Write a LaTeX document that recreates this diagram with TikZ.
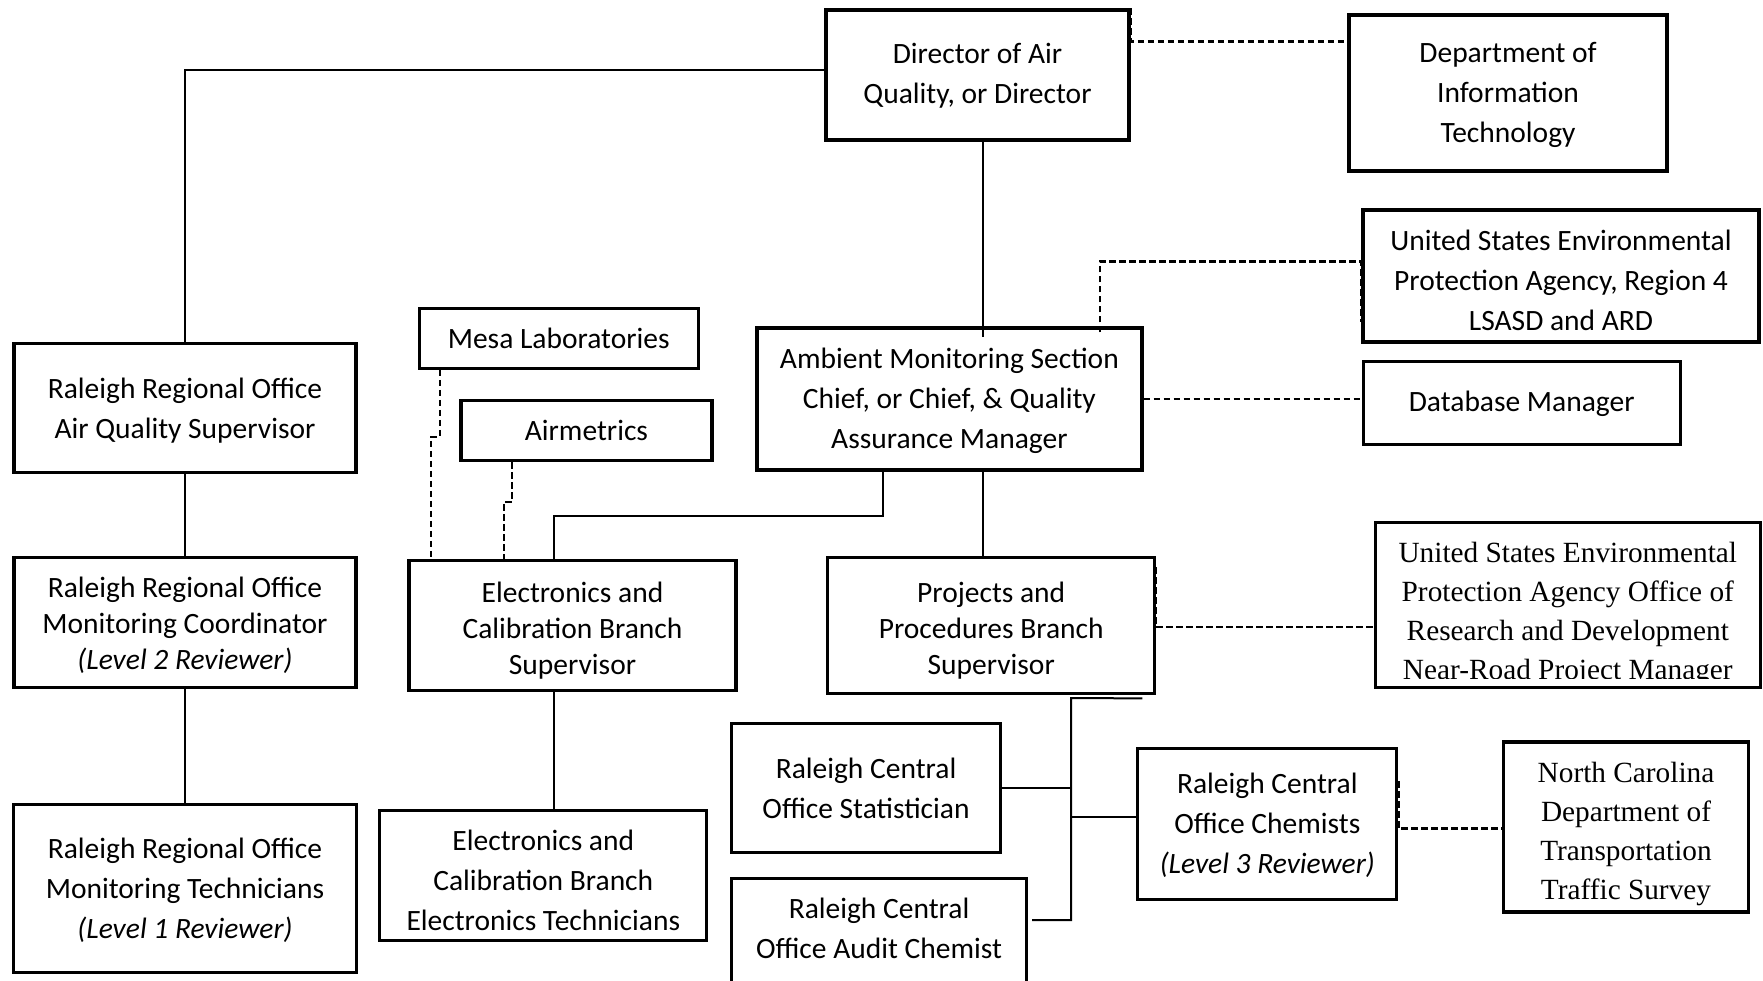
\documentclass[tikz,border=0pt]{standalone}
\usepackage{fontspec}
\setmainfont{Carlito}
\newfontfamily\timesfont{Liberation Serif}
\usetikzlibrary{calc}
\begin{document}
\begin{tikzpicture}[x=1pt,y=-1pt,
  box/.style={draw, line width=3.2pt, inner sep=0pt},
  lab/.style={align=center, inner sep=0pt, font=\fontsize{29.5}{40}\selectfont},
  tight/.style={font=\fontsize{29.5}{36}\selectfont},
  serif/.style={font=\timesfont\fontsize{29.3}{39}\selectfont},
  conn/.style={line width=2pt},
  thin/.style={line width=1.3pt},
  dconn/.style={line width=2.2pt, dash pattern=on 6.5pt off 3.5pt},
]
\clip (0,0) rectangle (1763,980);
\fill[white] (0,0) rectangle (1763,980);

% boxes
\node[box, minimum width=303, minimum height=130, label={[lab, yshift=-1pt]center:{Director of Air\\Quality, or Director}}] (dir) at (977.5,75) {};
\node[box, minimum width=318, minimum height=156, label={[lab, yshift=-2pt]center:{Department of\\Information\\Technology}}] (dit) at (1508,93) {};
\node[box, minimum width=396, minimum height=132, label={[lab, yshift=-4pt]center:{United States Environmental\\Protection Agency, Region 4\\LSASD and ARD}}] (r4) at (1561,276) {};
\node[box, minimum width=317, minimum height=83, label={[lab, yshift=-1pt]center:{Database Manager}}] (db) at (1521.7,403.2) {};
\node[box, minimum width=385, minimum height=142, label={[lab, yshift=-2pt]center:{Ambient Monitoring Section\\Chief, or Chief, \& Quality\\Assurance Manager}}] (amb) at (949.4,399) {};
\node[box, minimum width=279, minimum height=60, label={[lab]center:{Mesa Laboratories}}] (mesa) at (558.7,338.3) {};
\node[box, minimum width=251, minimum height=60, label={[lab]center:{Airmetrics}}] (air) at (586.4,430.5) {};
\node[box, minimum width=342, minimum height=129, label={[lab, yshift=-3pt]center:{Raleigh Regional Office\\Air Quality Supervisor}}] (rrs) at (185,407.8) {};
\node[box, minimum width=342, minimum height=130, label={[lab, tight, yshift=-3pt]center:{Raleigh Regional Office\\Monitoring Coordinator\\\textit{(Level 2 Reviewer)}}}] (rrc) at (185,622.5) {};
\node[box, minimum width=327, minimum height=130, label={[lab, tight, yshift=-4.5pt]center:{Electronics and\\Calibration Branch\\Supervisor}}] (ecs) at (572.5,625.8) {};
\node[box, minimum width=327, minimum height=136, label={[lab, tight, yshift=-4.5pt]center:{Projects and\\Procedures Branch\\Supervisor}}] (pp) at (991.2,625.8) {};
\node[box, minimum width=385, minimum height=165] (ord) at (1567.8,605.3) {};
\begin{scope}
  \clip ($(ord.north west)+(3,3)$) rectangle ($(ord.south east)+(-3,-11)$);
  \node[lab, serif] (ordt) at ($(ord.center)+(0,8.5)$) {United States Environmental\\Protection Agency Office of\\Research and Development\\Near-Road Project Manager};
\end{scope}
\node[box, minimum width=343, minimum height=168, label={[lab, yshift=-2pt]center:{Raleigh Regional Office\\Monitoring Technicians\\\textit{(Level 1 Reviewer)}}}] (rrt) at (185,888.3) {};
\node[box, minimum width=327, minimum height=130, label={[lab, yshift=-4.5pt]center:{Electronics and\\Calibration Branch\\Electronics Technicians}}] (ect) at (543.3,875.8) {};
\node[box, minimum width=269, minimum height=129, label={[lab]center:{Raleigh Central\\Office Statistician}}] (stat) at (866,788.3) {};
\node[box, minimum width=295, minimum height=160, anchor=north] (aud) at (879,877) {};
\node[lab] (audt) at (879,928) {Raleigh Central\\Office Audit Chemist};
\node[box, minimum width=259, minimum height=151, label={[lab, yshift=-1pt]center:{Raleigh Central\\Office Chemists\\\textit{(Level 3 Reviewer)}}}] (chem) at (1267.3,824.2) {};
\node[box, minimum width=245, minimum height=170, label={[lab, serif, yshift=-6.5pt]center:{North Carolina\\Department of\\Transportation\\Traffic Survey}}] (nc) at (1626,827) {};

% solid connectors
\draw[thin] ($(dir.west)+(0,-5)$) -| (rrs.north);
\draw[conn] (dir.south -| 983,0) -- ($(amb.north -| 983,0)+(0,11)$);
\draw[conn] (amb.south -| 983,0) -- (pp.north -| 983,0);
\draw[conn] (amb.south -| 883,0) |- (553.6,516) -- (ecs.north -| 553.6,0);
\draw[conn] (rrs.south) -- (rrc.north);
\draw[conn] (rrc.south) -- (rrt.north);
\draw[conn] (ecs.south -| 554,0) -- (ect.north -| 554,0);
\coordinate (pj) at (1071,698);
\draw[conn] ($(pp.south east)+(-14,3)$) -- (pj) -- (1071,920) -- ($(aud.north east)+(4,43)$);
\draw[conn] (stat.east) -- (stat.east -| pj);
\draw[conn] (chem.west |- 0,817) -- (1071,817);

% dashed connectors
\draw[dconn] (dir.north east) |- ($(dit.north west)+(0,28)$);
\draw[dconn] ($(amb.north -| 1100,0)+(0,6)$) |- ($(r4.north west)+(0,53)$) -- ($(r4.north west)+(0,114)$);
\draw[dconn] (amb.east) -- (amb.east -| db.west);
\draw[dconn] ($(pp.north east)+(0,11)$) |- ($(ord.north west)+(0,106)$);
\draw[dconn] ($(chem.north east)+(0,34)$) |- ($(nc.north west)+(0,88)$);
\draw[dconn] (mesa.south -| 440,0) -- (440,437) -- (431,437) -- (ecs.north -| 431,0);
\draw[dconn] (air.south -| 511.7,0) -- (511.7,502) -- (503.6,502) -- (ecs.north -| 503.6,0);
\end{tikzpicture}
\end{document}
